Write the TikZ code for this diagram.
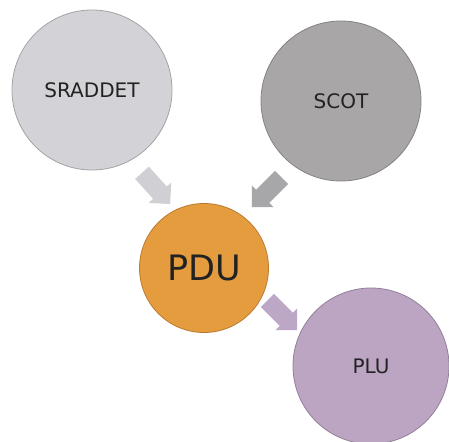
\documentclass[tikz,border=0pt]{standalone}
\usepackage{fontspec}
\setmainfont{DejaVu Sans}
\usetikzlibrary{shapes.arrows}
\definecolor{c1}{HTML}{D3D3D7}\definecolor{c1b}{HTML}{A4A4A8}
\definecolor{c2}{HTML}{A8A6A7}\definecolor{c2b}{HTML}{858384}
\definecolor{c3}{HTML}{E59C3F}\definecolor{c3b}{HTML}{B97A2E}
\definecolor{c4}{HTML}{BBA5C3}\definecolor{c4b}{HTML}{93809A}
\definecolor{a1}{HTML}{CFCFD4}\definecolor{a2}{HTML}{A7A6A8}\definecolor{a3}{HTML}{BCA8C6}
\definecolor{txt}{HTML}{222222}
\begin{document}
\begin{tikzpicture}[x=1pt,y=-1pt,
  bubble/.style={circle,inner sep=0pt,line width=0.8pt,text=txt,font=\fontsize{20}{24}\selectfont},
  blockarrow/.style={single arrow,draw=none,inner xsep=0pt,inner ysep=9pt,minimum height=42pt,single arrow head extend=6pt,single arrow head indent=0pt}]
\useasboundingbox (0,0) rectangle (449,441);
\clip (0,0) rectangle (449,441);
\fill[white] (0,0) rectangle (449,441);
\node[bubble,fill=c1,draw=c1b,minimum size=160pt] (srad) at (92,90) {SRADDET};
\node[bubble,fill=c2,draw=c2b,minimum size=160pt] (scot) at (341,101) {SCOT};
\node[bubble,fill=c3,draw=c3b,minimum size=129pt,font=\fontsize{35}{40}\selectfont] (pdu) at (204,268) {PDU};
\node[bubble,fill=c4,draw=c4b,minimum size=156pt] (plu) at (371,366) {PLU};
\node[blockarrow,fill=a1,rotate=-48] (ar1) at (153,185) {};
\node[blockarrow,fill=a2,rotate=-135] (ar2) at (270,189) {};
\node[blockarrow,fill=a3,rotate=-45] (ar3) at (279,312) {};
\end{tikzpicture}
\end{document}
